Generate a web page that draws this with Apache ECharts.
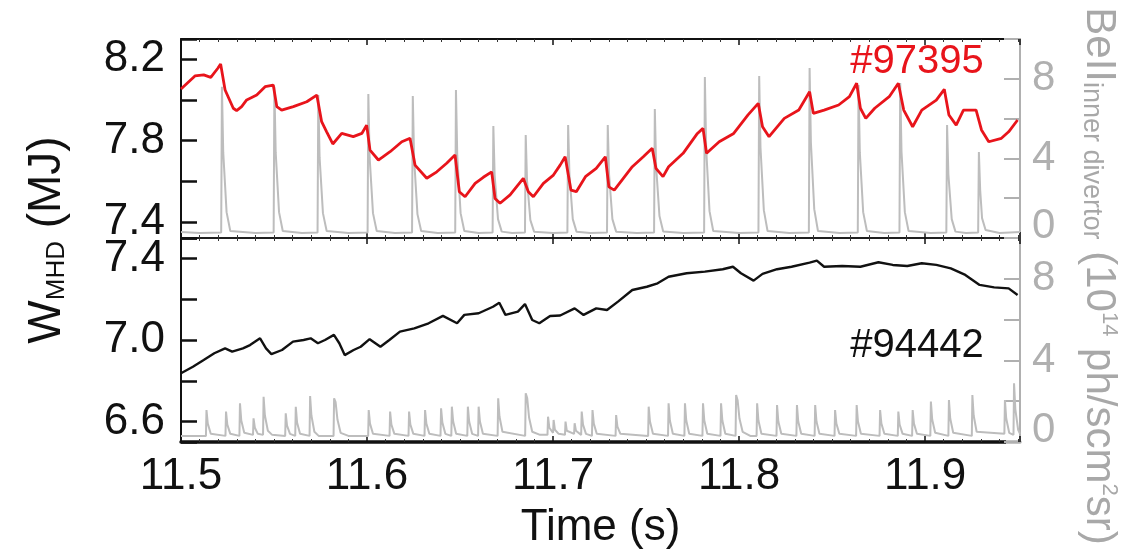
<!DOCTYPE html>
<html>
<head>
<meta charset="utf-8">
<script src="https://cdn.jsdelivr.net/npm/echarts@6/dist/echarts.min.js"></script>
<style>
html, body { margin: 0; padding: 0; background: #fff; }
#chart { width: 1127px; height: 555px; }
</style>
</head>
<body>
<div id="chart"></div>
<script>
var FONT = '"Liberation Sans", Arial, Helvetica, sans-serif';

// axes
var timeRange = [11.5, 11.951];
var timeLabels = [11.5, 11.6, 11.7, 11.8, 11.9];
var frameEnd = 11.942; // black frame stops a little before the grey axis
var wTopRange = [7.32, 8.3];
var wTopLabels = [7.4, 7.8, 8.2];
var wBotRange = [6.5, 7.5];
var wBotLabels = [6.6, 7.0, 7.4];
var beRange = [0, 10];
var beLabels = [0, 4, 8];

// #97395 stored energy (MJ)
var wTop = [
	[11.5000, 8.054], [11.5075, 8.118], [11.5122, 8.123], [11.5160, 8.111], [11.5198, 8.156],
	[11.5213, 8.177], [11.5237, 8.049], [11.5281, 7.959], [11.5299, 7.947], [11.5326, 7.967],
	[11.5353, 8.000], [11.5407, 8.024], [11.5452, 8.065], [11.5496, 8.073], [11.5515, 7.967],
	[11.5541, 7.950], [11.5604, 7.967], [11.5676, 7.991], [11.5730, 8.024], [11.5756, 7.893],
	[11.5783, 7.843], [11.5816, 7.783], [11.5864, 7.835], [11.5926, 7.819], [11.5972, 7.835],
	[11.5998, 7.876], [11.6016, 7.753], [11.6061, 7.704], [11.6124, 7.745], [11.6187, 7.794],
	[11.6231, 7.811], [11.6258, 7.679], [11.6321, 7.614], [11.6375, 7.646], [11.6428, 7.688],
	[11.6473, 7.729], [11.6496, 7.548], [11.6527, 7.523], [11.6581, 7.589], [11.6625, 7.619],
	[11.6670, 7.646], [11.6688, 7.515], [11.6715, 7.491], [11.6769, 7.532], [11.6840, 7.614],
	[11.6867, 7.548], [11.6894, 7.523], [11.6948, 7.589], [11.7002, 7.630], [11.7038, 7.679],
	[11.7065, 7.720], [11.7096, 7.556], [11.7125, 7.548], [11.7174, 7.622], [11.7232, 7.663],
	[11.7281, 7.720], [11.7300, 7.572], [11.7329, 7.556], [11.7426, 7.671], [11.7485, 7.720],
	[11.7533, 7.762], [11.7553, 7.663], [11.7591, 7.622], [11.7621, 7.671], [11.7699, 7.737],
	[11.7776, 7.835], [11.7806, 7.860], [11.7825, 7.737], [11.7893, 7.794], [11.7971, 7.835],
	[11.8048, 7.926], [11.8103, 7.983], [11.8126, 7.868], [11.8161, 7.819], [11.8243, 7.909],
	[11.8321, 7.950], [11.8379, 8.040], [11.8399, 7.934], [11.8457, 7.950], [11.8535, 7.975],
	[11.8593, 8.016], [11.8632, 8.082], [11.8652, 7.959], [11.8681, 7.909], [11.8729, 7.959],
	[11.8807, 8.016], [11.8856, 8.082], [11.8885, 7.950], [11.8933, 7.868], [11.8982, 7.950],
	[11.9060, 7.999], [11.9103, 8.052], [11.9128, 7.926], [11.9167, 7.876], [11.9206, 7.950],
	[11.9274, 7.950], [11.9303, 7.852], [11.9342, 7.794], [11.9410, 7.811], [11.9449, 7.843],
	[11.9497, 7.901]
];

// #97395 BeII inner divertor (1e14 ph/scm2sr)
var beTop = [
	[11.5000, 0.30], [11.5100, 0.25], [11.5216, 0.28],
	[11.5220, 7.60], [11.5227, 4.30], [11.5245, 1.30], [11.5265, 0.35],
	[11.5400, 0.25], [11.5498, 0.28],
	[11.5502, 7.60], [11.5509, 4.30], [11.5527, 1.30], [11.5547, 0.35],
	[11.5650, 0.25], [11.5734, 0.28],
	[11.5738, 7.19], [11.5745, 4.05], [11.5763, 1.25], [11.5783, 0.35],
	[11.5900, 0.25], [11.6003, 0.28],
	[11.6007, 7.24], [11.6014, 4.05], [11.6032, 1.25], [11.6052, 0.35],
	[11.6150, 0.25], [11.6242, 0.28],
	[11.6246, 7.14], [11.6253, 4.00], [11.6271, 1.20], [11.6291, 0.35],
	[11.6380, 0.25], [11.6474, 0.28],
	[11.6478, 7.44], [11.6485, 4.15], [11.6503, 1.25], [11.6523, 0.35],
	[11.6600, 0.25], [11.6675, 0.28],
	[11.6679, 5.63], [11.6686, 3.15], [11.6704, 0.95], [11.6724, 0.32],
	[11.6780, 0.25], [11.6849, 0.28],
	[11.6853, 5.18], [11.6860, 2.90], [11.6878, 0.90], [11.6898, 0.32],
	[11.7000, 0.25], [11.7077, 0.28],
	[11.7081, 5.68], [11.7088, 3.20], [11.7106, 0.95], [11.7126, 0.32],
	[11.7200, 0.25], [11.7290, 0.28],
	[11.7294, 5.68], [11.7301, 3.20], [11.7319, 0.95], [11.7339, 0.32],
	[11.7450, 0.25], [11.7543, 0.28],
	[11.7547, 6.48], [11.7554, 3.60], [11.7572, 1.10], [11.7592, 0.33],
	[11.7700, 0.25], [11.7812, 0.28],
	[11.7816, 8.09], [11.7823, 4.50], [11.7841, 1.35], [11.7861, 0.35],
	[11.8000, 0.25], [11.8104, 0.28],
	[11.8108, 8.14], [11.8115, 4.55], [11.8133, 1.40], [11.8153, 0.35],
	[11.8270, 0.25], [11.8375, 0.28],
	[11.8379, 8.54], [11.8386, 4.80], [11.8404, 1.45], [11.8424, 0.35],
	[11.8540, 0.25], [11.8638, 0.28],
	[11.8642, 7.69], [11.8649, 4.30], [11.8667, 1.30], [11.8687, 0.35],
	[11.8780, 0.25], [11.8862, 0.28],
	[11.8866, 7.79], [11.8873, 4.35], [11.8891, 1.30], [11.8911, 0.35],
	[11.9030, 0.25], [11.9114, 0.28],
	[11.9118, 5.68], [11.9125, 3.20], [11.9143, 0.95], [11.9163, 0.32],
	[11.9220, 0.25], [11.9285, 0.28],
	[11.9289, 4.32], [11.9296, 2.40], [11.9306, 1.00], [11.9312, 0.90], [11.9325, 0.40],
	[11.9400, 0.25], [11.9510, 0.30]
];

// #94442 stored energy (MJ)
var wBot = [
	[11.5000, 6.837], [11.5064, 6.869], [11.5122, 6.902], [11.5179, 6.935], [11.5237, 6.959],
	[11.5275, 6.943], [11.5333, 6.959], [11.5371, 6.975], [11.5425, 7.008], [11.5457, 6.959],
	[11.5486, 6.931], [11.5543, 6.951], [11.5602, 6.992], [11.5659, 7.000], [11.5697, 7.008],
	[11.5736, 6.984], [11.5774, 7.000], [11.5822, 7.025], [11.5851, 6.984], [11.5880, 6.926],
	[11.5928, 6.951], [11.5966, 6.967], [11.6014, 7.004], [11.6072, 6.967], [11.6120, 7.000],
	[11.6177, 7.041], [11.6254, 7.057], [11.6331, 7.082], [11.6408, 7.118], [11.6484, 7.082],
	[11.6523, 7.123], [11.6600, 7.131], [11.6677, 7.163], [11.6711, 7.183], [11.6744, 7.123],
	[11.6811, 7.139], [11.6849, 7.176], [11.6888, 7.098], [11.6926, 7.082], [11.6984, 7.118],
	[11.7038, 7.120], [11.7116, 7.155], [11.7164, 7.123], [11.7232, 7.155], [11.7290, 7.147],
	[11.7349, 7.188], [11.7426, 7.245], [11.7504, 7.261], [11.7562, 7.278], [11.7621, 7.310],
	[11.7718, 7.327], [11.7816, 7.335], [11.7912, 7.347], [11.7967, 7.359], [11.8010, 7.327],
	[11.8078, 7.291], [11.8126, 7.324], [11.8204, 7.347], [11.8282, 7.359], [11.8379, 7.379],
	[11.8418, 7.389], [11.8457, 7.359], [11.8554, 7.363], [11.8652, 7.359], [11.8749, 7.381],
	[11.8826, 7.368], [11.8904, 7.363], [11.8982, 7.376], [11.9060, 7.368], [11.9138, 7.351],
	[11.9216, 7.319], [11.9293, 7.270], [11.9371, 7.258], [11.9449, 7.253], [11.9497, 7.221]
];

// #94442 BeII inner divertor
var beBot = [
	[11.5000, 0.30], [11.5134, 0.30],
	[11.5137, 1.57], [11.5144, 0.90], [11.5160, 0.40], [11.5239, 0.30],
	[11.5242, 1.49], [11.5249, 0.85], [11.5265, 0.40], [11.5314, 0.30],
	[11.5317, 1.90], [11.5324, 1.05], [11.5340, 0.45], [11.5387, 0.35],
	[11.5390, 1.16], [11.5397, 0.70], [11.5413, 0.40], [11.5441, 0.35],
	[11.5444, 2.22], [11.5451, 1.30], [11.5467, 0.55], [11.5490, 0.35], [11.5560, 0.30],
	[11.5563, 1.41], [11.5570, 0.80], [11.5586, 0.40], [11.5614, 0.30],
	[11.5617, 1.73], [11.5624, 0.95], [11.5640, 0.40], [11.5691, 0.30],
	[11.5694, 2.25], [11.5701, 1.30], [11.5717, 0.50], [11.5740, 0.30], [11.5820, 0.30],
	[11.5823, 2.14], [11.5831, 1.95], [11.5841, 1.10], [11.5858, 0.45], [11.5900, 0.30], [11.6006, 0.30],
	[11.6009, 1.57], [11.6016, 0.90], [11.6032, 0.40], [11.6121, 0.30],
	[11.6124, 1.49], [11.6131, 0.85], [11.6147, 0.40], [11.6223, 0.30],
	[11.6226, 1.49], [11.6233, 0.85], [11.6249, 0.40], [11.6309, 0.30],
	[11.6312, 1.57], [11.6319, 0.90], [11.6335, 0.40], [11.6395, 0.30],
	[11.6398, 1.65], [11.6405, 0.95], [11.6421, 0.40], [11.6453, 0.30],
	[11.6456, 1.73], [11.6463, 1.00], [11.6479, 0.40], [11.6539, 0.30],
	[11.6542, 1.73], [11.6549, 1.00], [11.6565, 0.40], [11.6597, 0.30],
	[11.6600, 1.73], [11.6607, 1.00], [11.6623, 0.40], [11.6702, 0.30],
	[11.6705, 2.14], [11.6712, 1.25], [11.6728, 0.50], [11.6850, 0.30],
	[11.6853, 2.39], [11.6861, 2.15], [11.6871, 1.20], [11.6888, 0.50], [11.6930, 0.35], [11.6970, 0.35],
	[11.6973, 1.24], [11.6980, 0.70], [11.7000, 0.45],
	[11.7003, 1.08], [11.7010, 0.60], [11.7030, 0.40], [11.7064, 0.35],
	[11.7067, 1.00], [11.7074, 0.55], [11.7113, 0.40],
	[11.7116, 0.92], [11.7123, 0.55], [11.7151, 0.35],
	[11.7154, 1.49], [11.7161, 0.85], [11.7177, 0.40], [11.7209, 0.30],
	[11.7212, 1.57], [11.7219, 0.90], [11.7235, 0.40], [11.7336, 0.30],
	[11.7339, 1.32], [11.7346, 0.75], [11.7362, 0.40], [11.7511, 0.30],
	[11.7514, 1.73], [11.7521, 1.00], [11.7537, 0.40], [11.7618, 0.30],
	[11.7621, 1.90], [11.7628, 1.05], [11.7644, 0.40], [11.7706, 0.30],
	[11.7709, 1.90], [11.7716, 1.05], [11.7732, 0.40], [11.7803, 0.30],
	[11.7806, 1.90], [11.7813, 1.05], [11.7829, 0.40], [11.7900, 0.30],
	[11.7903, 1.90], [11.7910, 1.05], [11.7926, 0.40], [11.7981, 0.30],
	[11.7984, 2.30], [11.7992, 2.05], [11.8002, 1.15], [11.8019, 0.50], [11.8060, 0.30], [11.8094, 0.30],
	[11.8097, 1.90], [11.8104, 1.05], [11.8120, 0.40], [11.8201, 0.30],
	[11.8204, 1.81], [11.8211, 1.00], [11.8227, 0.40], [11.8308, 0.30],
	[11.8311, 1.81], [11.8318, 1.00], [11.8334, 0.40], [11.8406, 0.30],
	[11.8409, 1.81], [11.8416, 1.00], [11.8432, 0.40], [11.8513, 0.30],
	[11.8516, 1.57], [11.8523, 0.90], [11.8539, 0.40], [11.8629, 0.30],
	[11.8632, 1.81], [11.8639, 1.00], [11.8655, 0.40], [11.8755, 0.30],
	[11.8758, 1.57], [11.8765, 0.90], [11.8781, 0.40], [11.8853, 0.30],
	[11.8856, 1.49], [11.8863, 0.85], [11.8879, 0.40], [11.8930, 0.30],
	[11.8933, 1.57], [11.8940, 0.90], [11.8956, 0.40], [11.9028, 0.30],
	[11.9031, 1.98], [11.9038, 1.10], [11.9054, 0.45], [11.9125, 0.30],
	[11.9128, 2.06], [11.9135, 1.15], [11.9151, 0.45], [11.9251, 0.30],
	[11.9254, 2.30], [11.9261, 1.30], [11.9277, 0.50], [11.9426, 0.40],
	[11.9429, 2.06], [11.9436, 1.15], [11.9452, 0.45], [11.9475, 0.35],
	[11.9478, 2.88], [11.9485, 1.60], [11.9500, 0.60], [11.9510, 0.40]
];

var BLACK = '#111111';
var RED = '#e8141b';
var GREY = '#bdbdbd';
var GREY_TEXT = '#b0b0b0';
var GREY_TITLE = '#a8a8a8';

function inList(list, v) {
	for (var i = 0; i < list.length; i++) {
		if (Math.abs(list[i] - v) < 1e-6) return true;
	}
	return false;
}

// black up to frameEnd, grey after it
function frameColor() {
	var stop = (frameEnd - timeRange[0]) / (timeRange[1] - timeRange[0]);
	return {
		type : 'linear', x : 0, y : 0, x2 : 1, y2 : 0,
		colorStops : [
			{ offset : 0, color : BLACK },
			{ offset : stop, color : BLACK },
			{ offset : stop, color : GREY_TEXT },
			{ offset : 1, color : GREY_TEXT }
		]
	};
}

// x axis (one per grid side)
function timeAxis(grid, pos, showLabel, lineWidth) {
	var ax = {
		type : 'value',
		gridIndex : grid,
		position : pos,
		min : timeRange[0],
		max : timeRange[1],
		interval : 0.1,
		axisLine : { show : true, onZero : false, lineStyle : { color : frameColor(), width : lineWidth } },
		axisTick : { show : true, inside : true, length : 6, lineStyle : { color : BLACK, width : 1.5 } },
		minorTick : { show : true, splitNumber : 10, length : 3, lineStyle : { color : '#333', width : 1 } },
		splitLine : { show : false },
		axisLabel : { show : false }
	};
	if (showLabel) {
		ax.axisLabel = {
			show : true,
			margin : 13,
			fontSize : 44,
			fontFamily : FONT,
			color : BLACK,
			showMaxLabel : false,
			formatter : function(v) {
				return inList(timeLabels, v) ? v.toFixed(1) : '';
			}
		};
		ax.name = 'Time (s)';
		ax.nameLocation = 'middle';
		ax.nameGap = 64;
		ax.nameTextStyle = { fontSize : 44, fontFamily : FONT, color : BLACK };
	}
	return ax;
}

function wAxis(grid, range, labels) {
	return {
		type : 'value',
		gridIndex : grid,
		position : 'left',
		min : range[0],
		max : range[1],
		axisLine : { show : true, onZero : false, lineStyle : { color : BLACK, width : 2 } },
		axisTick : { show : true, inside : true, length : 16, lineStyle : { color : BLACK, width : 2.5 } },
		splitLine : { show : false },
		axisLabel : {
			margin : 16,
			fontSize : 44,
			fontFamily : FONT,
			color : BLACK,
			formatter : function(v) {
				return inList(labels, v) ? v.toFixed(1) : '';
			}
		}
	};
}

function beAxis(grid) {
	return {
		type : 'value',
		gridIndex : grid,
		position : 'right',
		min : beRange[0],
		max : beRange[1],
		interval : 2,
		axisLine : { show : true, onZero : false, lineStyle : { color : GREY_TEXT, width : 2 } },
		axisTick : { show : true, inside : true, length : 16, lineStyle : { color : GREY_TEXT, width : 2 } },
		splitLine : { show : false },
		axisLabel : {
			margin : 12,
			fontSize : 42,
			lineHeight : 24,
			fontFamily : FONT,
			color : GREY_TEXT,
			verticalAlignMinLabel : 'bottom',
			formatter : function(v) {
				return inList(beLabels, v) ? String(v) : '';
			}
		}
	};
}

var option = {
	animation : false,
	backgroundColor : '#ffffff',
	grid : [
		{ left : 181, top : 39, width : 839, height : 199 },
		{ left : 181, top : 238, width : 839, height : 204 }
	],
	xAxis : [
		timeAxis(0, 'bottom', false, 1.5),
		timeAxis(0, 'top', false, 2),
		timeAxis(1, 'bottom', true, 3.5),
		timeAxis(1, 'top', false, 1.5)
	],
	yAxis : [
		wAxis(0, wTopRange, wTopLabels),
		beAxis(0),
		wAxis(1, wBotRange, wBotLabels),
		beAxis(1)
	],
	series : [ {
		name : 'BeII #97395',
		type : 'line',
		xAxisIndex : 0,
		yAxisIndex : 1,
		data : beTop,
		showSymbol : false,
		lineStyle : { color : GREY, width : 2 },
		z : 2
	}, {
		name : 'W #97395',
		type : 'line',
		xAxisIndex : 0,
		yAxisIndex : 0,
		data : wTop,
		showSymbol : false,
		lineStyle : { color : RED, width : 2.8 },
		z : 3
	}, {
		name : 'BeII #94442',
		type : 'line',
		xAxisIndex : 2,
		yAxisIndex : 3,
		data : beBot,
		showSymbol : false,
		lineStyle : { color : GREY, width : 2 },
		z : 2
	}, {
		name : 'W #94442',
		type : 'line',
		xAxisIndex : 2,
		yAxisIndex : 2,
		data : wBot,
		showSymbol : false,
		lineStyle : { color : BLACK, width : 2.4 },
		z : 3
	} ],
	graphic : [ {
		type : 'text',
		x : 47,
		y : 240,
		rotation : Math.PI / 2,
		style : {
			text : '{a|W}{b|MHD}{a| (MJ)}',
			align : 'center',
			verticalAlign : 'middle',
			rich : {
				a : { fontSize : 46, fontFamily : FONT, fill : BLACK, verticalAlign : 'bottom' },
				b : { fontSize : 26, fontFamily : FONT, fill : BLACK, verticalAlign : 'bottom' }
			}
		}
	}, {
		type : 'text',
		x : 1099,
		y : 276,
		rotation : -Math.PI / 2,
		style : {
			text : '{a|BeII}{b|inner divertor}{a| (10}{c|14}{a| ph/scm}{c|2}{a|sr)}',
			align : 'center',
			verticalAlign : 'middle',
			rich : {
				a : { fontSize : 42, fontFamily : FONT, fill : GREY_TITLE, verticalAlign : 'bottom' },
				b : { fontSize : 27, fontFamily : FONT, fill : GREY_TITLE, verticalAlign : 'bottom' },
				c : { fontSize : 22, fontFamily : FONT, fill : GREY_TITLE, verticalAlign : 'top' }
			}
		}
	}, {
		type : 'text',
		x : 917,
		y : 62,
		style : { text : '#97395', fontSize : 40, fontFamily : FONT, fill : RED, align : 'center', verticalAlign : 'middle' }
	}, {
		type : 'text',
		x : 917,
		y : 346,
		style : { text : '#94442', fontSize : 40, fontFamily : FONT, fill : BLACK, align : 'center', verticalAlign : 'middle' }
	} ]
};

var myChart = echarts.init(document.getElementById('chart'));
myChart.setOption(option, true);
</script>
</body>
</html>
